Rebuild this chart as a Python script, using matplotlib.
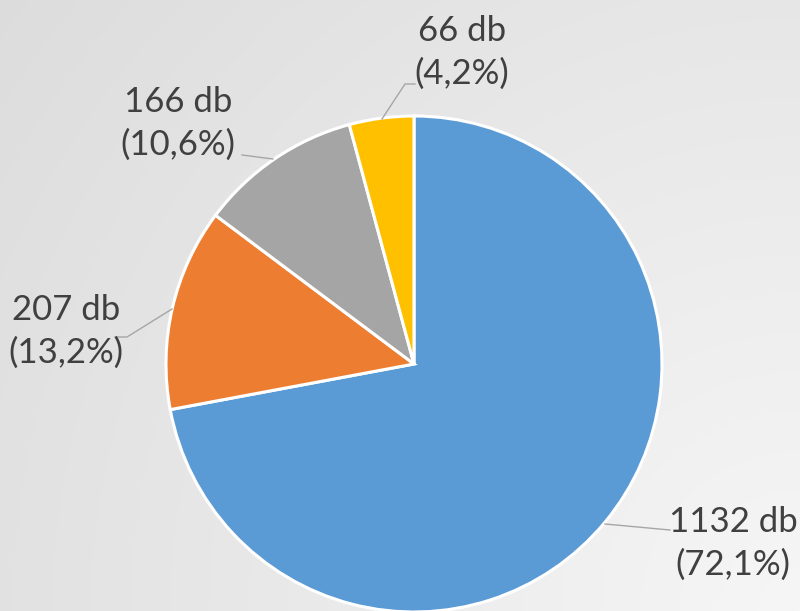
import matplotlib
matplotlib.use("Agg")
import matplotlib.pyplot as plt
import numpy as np

counts = [1132, 207, 166, 66]
percents = ["72,1%", "13,2%", "10,6%", "4,2%"]
colors = ["#5B9BD5", "#ED7D31", "#A5A5A5", "#FFC000"]

W, H = 800, 611
fig = plt.figure(figsize=(W / 100, H / 100), dpi=100)
ax = fig.add_axes([0, 0, 1, 1])
ax.set_xlim(0, W)
ax.set_ylim(0, H)
ax.axis("off")

# background radial gradient (light top-right -> grey left)
yy, xx = np.mgrid[0:H, 0:W]
d = np.sqrt((xx - W) ** 2 + (yy - 0) ** 2)
g = 0.965 - 0.1 * d / 1000
g = np.clip(g, 0, 1)
bg = np.dstack([g, g, g])
ax.imshow(bg, extent=(0, W, H, 0), origin="upper", zorder=0, aspect="auto")

cx, cy, r = 414, H - 364, 248
wedges, _ = ax.pie(counts, colors=colors, startangle=90, counterclock=False,
                   center=(cx, cy), radius=r, frame=True,
                   wedgeprops=dict(edgecolor="white", linewidth=2.2))
for w in wedges:
    w.set_zorder(2)
ax.set_xlim(0, W)
ax.set_ylim(0, H)
ax.set_aspect("equal")
ax.axis("off")

# labels (pixel positions, y from top)
label_pos = [(733, 543), (66, 331), (178, 123), (462, 52)]
leaders = [
    [(605, 524), (670, 530)],
    [(172, 309), (127, 337), (115, 337)],
    [(273, 159), (242, 155)],
    [(382, 119), (405, 84), (415, 84)],
]
for c, p, (lx, ly), pts in zip(counts, percents, label_pos, leaders):
    ax.text(lx, H - ly, f"{c} db\n({p})", ha="center", va="center",
            fontsize=25, color="#404040", family=["Lato", "DejaVu Sans"],
            linespacing=1.4, zorder=4)
    xs = [q[0] for q in pts]
    ys = [H - q[1] for q in pts]
    ax.plot(xs, ys, color="#a6a6a6", lw=1.0, zorder=3)

fig.savefig("out.png", dpi=100)
